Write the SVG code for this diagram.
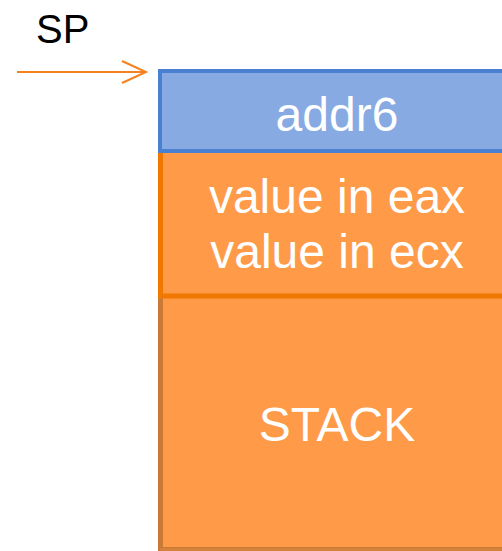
<svg xmlns="http://www.w3.org/2000/svg" width="502" height="551" viewBox="0 0 502 551">
  <style>
    .lbl { font-family: "Liberation Sans", Arial, sans-serif; font-size: 48px; fill: #ffffff; text-anchor: middle; }
    .sp { font-family: "Liberation Sans", Arial, sans-serif; font-size: 40px; fill: #000000; }
    .conn { stroke: #f5821f; stroke-width: 2; fill: none; }
  </style>
  <rect width="502" height="551" fill="#ffffff"/>
  <g id="stack">
    <rect x="160" y="296" width="400" height="253" fill="#fe9a48"/>
    <path d="M160.5 296 V549.5 H560" fill="none" stroke="#c97a36" stroke-width="5"/>
    <path d="M160 549.5 H560" fill="none" stroke="#d6843c" stroke-width="2.5"/>
    <text class="lbl" x="337" y="441">STACK</text>
  </g>
  <g id="values">
    <rect x="160.5" y="150" width="400" height="146" fill="#fe9a48" stroke="#f07800" stroke-width="5"/>
    <text class="lbl" x="337" y="213">value in eax</text>
    <text class="lbl" x="337" y="268">value in ecx</text>
  </g>
  <g id="addr6">
    <rect x="160" y="71" width="400" height="80" fill="#87aae3" stroke="#4a80d2" stroke-width="4"/>
    <text class="lbl" x="337" y="131">addr6</text>
  </g>
  <g id="sp-label">
    <text class="sp" x="36" y="43">SP</text>
  </g>
  <g id="connectors">
    <path class="conn" d="M17 72 H146"/>
    <path class="conn" d="M122 61 L146 72 L122 83"/>
  </g>
</svg>
